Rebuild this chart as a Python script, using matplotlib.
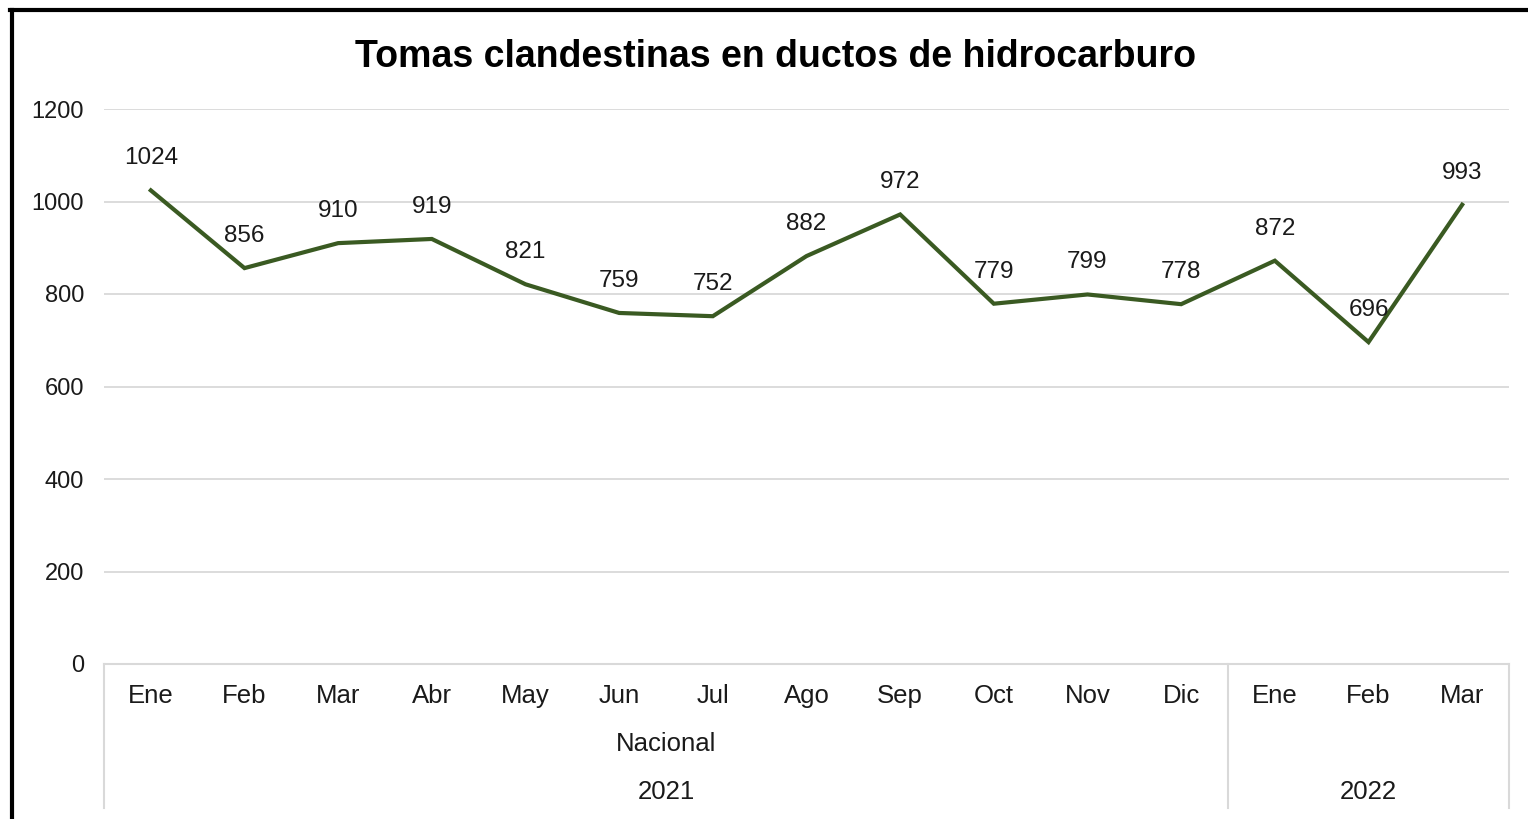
import matplotlib
matplotlib.use("Agg")
import matplotlib.pyplot as plt
from matplotlib.lines import Line2D
import matplotlib.transforms as mtransforms

plt.rcParams['font.family'] = ['Liberation Sans', 'DejaVu Sans']

months = ["Ene", "Feb", "Mar", "Abr", "May", "Jun", "Jul", "Ago", "Sep", "Oct", "Nov", "Dic", "Ene", "Feb", "Mar"]
values = [1024, 856, 910, 919, 821, 759, 752, 882, 972, 779, 799, 778, 872, 696, 993]
groups = ["2021", "2022"]
group_sizes = [12, 3]
group_sublabel = ["Nacional", ""]
yticks = [0, 200, 400, 600, 800, 1000, 1200]
title = "Tomas clandestinas en ductos de hidrocarburo"

W, H = 1528, 819
dpi = 100
fig = plt.figure(figsize=(W / dpi, H / dpi), dpi=dpi)
fig.patch.set_facecolor("white")

left, right, top, bottom = 104, 1509, 109, 664
ax = fig.add_axes([left / W, 1 - bottom / H, (right - left) / W, (bottom - top) / H])

x = list(range(len(values)))
line_color = "#3a5a22"
text_color = "#1a1a1a"
grid_color = "#d9d9d9"

ax.plot(x, values, color=line_color, linewidth=3.0, solid_joinstyle="miter", zorder=3)
for xi, v in zip(x, values):
    ax.annotate(str(v), (xi, v), xytext=(0, 32 * 72 / dpi), textcoords="offset points",
                ha="center", va="center", fontsize=17.5, color=text_color, zorder=4)

ax.set_xlim(-0.5, len(values) - 0.5)
ax.set_ylim(0, 1200)
ax.set_yticks(yticks)
ax.set_yticklabels([str(t) for t in yticks], fontsize=17, color=text_color)
ax.tick_params(axis="y", length=0, pad=20 * 72 / dpi)
ax.set_xticks([])
ax.yaxis.grid(True, color=grid_color, linewidth=1.3)
ax.set_axisbelow(True)
for s in ["top", "right", "left"]:
    ax.spines[s].set_visible(False)
ax.spines["bottom"].set_color(grid_color)
ax.spines["bottom"].set_linewidth(1.5)

trans = mtransforms.blended_transform_factory(ax.transData, fig.transFigure)
def fy(py):
    return 1 - py / H

xfs = 18.5
# month labels
for xi, m in zip(x, months):
    ax.text(xi, fy(696), m, transform=trans, ha="center", va="center", fontsize=xfs, color=text_color)

# group separators and labels
start = 0
bounds = [-0.5]
for g, n, sub in zip(groups, group_sizes, group_sublabel):
    center = start + (n - 1) / 2
    if sub:
        ax.text(center, fy(744), sub, transform=trans, ha="center", va="center", fontsize=xfs, color=text_color)
    ax.text(center, fy(792), g, transform=trans, ha="center", va="center", fontsize=xfs, color=text_color)
    start += n
    bounds.append(start - 0.5)
for b in bounds:
    ax.add_line(Line2D([b, b], [fy(664), fy(808)], transform=trans, color=grid_color,
                       linewidth=1.5, clip_on=False))

fig.text(776 / W, fy(57), title, ha="center", va="center",
         fontsize=27, fontweight="bold", color="black")

# outer frame (left and top borders)
fig.add_artist(Line2D([11.5 / W, 11.5 / W], [0, fy(10)], transform=fig.transFigure, color="black", linewidth=3))
fig.add_artist(Line2D([10 / W, 1], [fy(10), fy(10)], transform=fig.transFigure, color="black", linewidth=3))

fig.savefig("out.png", dpi=dpi, facecolor="white")
